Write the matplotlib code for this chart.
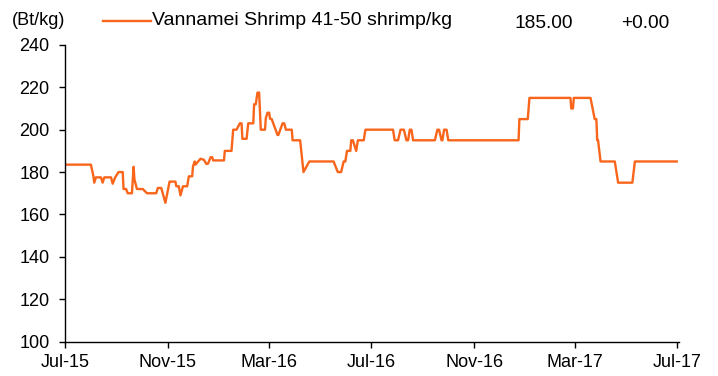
import matplotlib
matplotlib.use("Agg")
import matplotlib.pyplot as plt
import matplotlib.dates as mdates
import pandas as pd

plt.rcParams['font.family'] = ['Liberation Sans', 'DejaVu Sans']

# Vannamei shrimp 41-50 shrimp/kg farm-gate price (Bt/kg)
dates = [
    "2015-07-01", "2015-08-01", "2015-08-04", "2015-08-05", "2015-08-07",
    "2015-08-13", "2015-08-15", "2015-08-17", "2015-08-25", "2015-08-27",
    "2015-08-30", "2015-09-03", "2015-09-08", "2015-09-09", "2015-09-12",
    "2015-09-14", "2015-09-19", "2015-09-21", "2015-09-22", "2015-09-25",
    "2015-10-02", "2015-10-07", "2015-10-18", "2015-10-20", "2015-10-24",
    "2015-10-29", "2015-11-01", "2015-11-03", "2015-11-10", "2015-11-11",
    "2015-11-14", "2015-11-16", "2015-11-19", "2015-11-24", "2015-11-26",
    "2015-11-30", "2015-12-01", "2015-12-03", "2015-12-04", "2015-12-06",
    "2015-12-10", "2015-12-14", "2015-12-17", "2015-12-19", "2015-12-22",
    "2015-12-24", "2015-12-25", "2016-01-07", "2016-01-08", "2016-01-16",
    "2016-01-18", "2016-01-22", "2016-01-26", "2016-01-28", "2016-01-29",
    "2016-02-03", "2016-02-05", "2016-02-11", "2016-02-12", "2016-02-14",
    "2016-02-16", "2016-02-18", "2016-02-20", "2016-02-25", "2016-02-26",
    "2016-02-28", "2016-03-01", "2016-03-02", "2016-03-04", "2016-03-11",
    "2016-03-12", "2016-03-17", "2016-03-19", "2016-03-21", "2016-03-28",
    "2016-03-29", "2016-04-07", "2016-04-11", "2016-04-18", "2016-05-17",
    "2016-05-22", "2016-05-26", "2016-05-29", "2016-05-31", "2016-06-02",
    "2016-06-06", "2016-06-07", "2016-06-09", "2016-06-13", "2016-06-15",
    "2016-06-22", "2016-06-24", "2016-07-27", "2016-07-29", "2016-08-02",
    "2016-08-05", "2016-08-09", "2016-08-12", "2016-08-14", "2016-08-16",
    "2016-08-18", "2016-08-20", "2016-09-15", "2016-09-18", "2016-09-20",
    "2016-09-23", "2016-09-24", "2016-09-26", "2016-09-29", "2016-10-01",
    "2016-12-24", "2016-12-25", "2017-01-04", "2017-01-06", "2017-02-24",
    "2017-02-25", "2017-02-27", "2017-02-28", "2017-03-20", "2017-03-25",
    "2017-03-27", "2017-03-28", "2017-03-29", "2017-04-01", "2017-04-18",
    "2017-04-22", "2017-05-09", "2017-05-12", "2017-07-01",
]
prices = [
    183.5, 183.5, 178.0, 175.0, 177.5,
    177.5, 175.0, 177.5, 177.5, 174.5,
    177.5, 180.0, 180.0, 172.0, 172.0,
    170.0, 170.0, 182.5, 176.5, 172.0,
    172.0, 170.0, 170.0, 172.5, 172.5,
    165.5, 171.5, 175.5, 175.5, 173.3,
    173.3, 169.0, 173.3, 173.3, 178.0,
    178.0, 182.7, 185.0, 183.5, 184.5,
    186.3, 185.8, 183.8, 184.0, 187.0,
    187.0, 185.5, 185.5, 190.0, 190.0,
    200.0, 200.0, 203.0, 203.0, 195.7,
    195.7, 203.0, 203.0, 212.0, 212.0,
    217.5, 217.5, 200.0, 200.0, 205.5,
    208.0, 208.0, 205.2, 205.0, 197.5,
    197.5, 203.0, 203.0, 200.0, 200.0,
    195.0, 195.0, 180.0, 185.0, 185.0,
    180.0, 180.0, 185.0, 185.0, 190.0,
    190.0, 195.0, 195.0, 190.0, 195.0,
    195.0, 200.0, 200.0, 195.0, 195.0,
    200.0, 200.0, 195.0, 195.0, 200.0,
    200.0, 195.0, 195.0, 200.0, 200.0,
    195.0, 195.0, 200.0, 200.0, 195.0,
    195.0, 205.0, 205.0, 215.0, 215.0,
    210.0, 210.0, 215.0, 215.0, 205.0,
    205.0, 195.0, 195.0, 185.0, 185.0,
    175.0, 175.0, 185.0, 185.0,
]
series_name = "Vannamei Shrimp 41-50 shrimp/kg"
last_value = "185.00"
change = "+0.00"
unit = "(Bt/kg)"
y_ticks = [100, 120, 140, 160, 180, 200, 220, 240]

line_color = "#F8651B"

fig = plt.figure(figsize=(7.18, 3.76), dpi=100)
ax = fig.add_axes([0.0905, 0.0915, 0.8555, 0.789])

ax.plot(pd.to_datetime(dates), prices, color=line_color, lw=1.7)

ax.set_ylim(100, 240)
ax.set_yticks(y_ticks)
ax.set_xlim(pd.Timestamp("2015-07-01"), pd.Timestamp("2017-07-04"))
ax.xaxis.set_major_locator(mdates.MonthLocator(bymonth=[3, 7, 11]))
ax.xaxis.set_major_formatter(mdates.DateFormatter("%b-%y"))

for side in ("top", "right"):
    ax.spines[side].set_visible(False)
for side in ("left", "bottom"):
    ax.spines[side].set_color("black")
    ax.spines[side].set_linewidth(1.0)
ax.tick_params(axis="both", direction="out", length=4, width=1.0,
               colors="black", labelsize=13)
ax.tick_params(axis="y", pad=7)
ax.tick_params(axis="x", pad=5)

# header row: unit, legend key, latest value and change
fig.text(0.016, 0.945, unit, fontsize=13, va="center", ha="left")
fig.add_artist(plt.Line2D([0.143, 0.210], [0.943, 0.943], color=line_color,
                          lw=1.7, transform=fig.transFigure))
fig.text(0.212, 0.945, series_name, fontsize=14, va="center", ha="left")
fig.text(0.716, 0.938, last_value, fontsize=13.8, va="center", ha="left")
fig.text(0.865, 0.938, change, fontsize=13.8, va="center", ha="left")

fig.savefig("out.png", dpi=100)
